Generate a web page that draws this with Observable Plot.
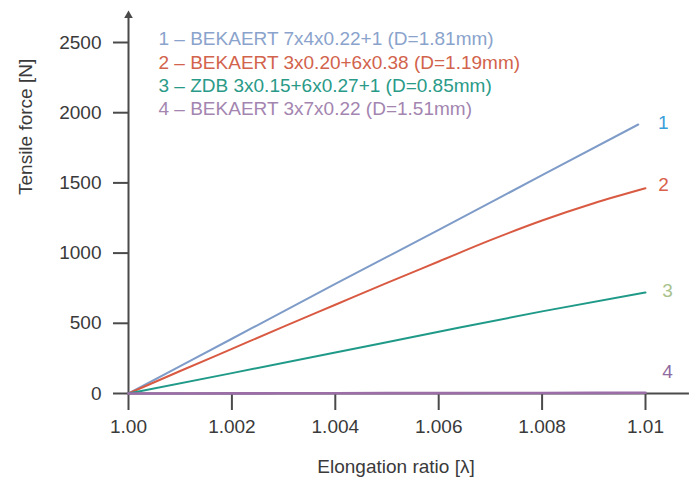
<!DOCTYPE html>
<html>
<head>
<meta charset="utf-8">
<script src="https://cdn.jsdelivr.net/npm/d3@7"></script>
<script src="https://cdn.jsdelivr.net/npm/@observablehq/plot@0.6"></script>
<style>
  html, body { margin: 0; padding: 0; background: #fff; }
  #chart { width: 689px; height: 478px; }
</style>
</head>
<body>
<div id="chart"></div>
<script>
// ---- Data ----
const seriesIds = ["1", "2", "3", "4"];
const seriesNames = [
  "1 – BEKAERT 7x4x0.22+1 (D=1.81mm)",
  "2 – BEKAERT 3x0.20+6x0.38 (D=1.19mm)",
  "3 – ZDB 3x0.15+6x0.27+1 (D=0.85mm)",
  "4 – BEKAERT 3x7x0.22 (D=1.51mm)"
];
const lambda1 = [1.000, 1.002, 1.004, 1.006, 1.008, 1.00986];
const force1  = [0, 390, 780, 1165, 1555, 1916];
const lambda2 = [1.000, 1.001, 1.002, 1.003, 1.004, 1.005, 1.006, 1.007, 1.008, 1.009, 1.010];
const force2  = [0, 160, 318, 476, 632, 788, 940, 1092, 1232, 1355, 1462];
const lambda3 = [1.000, 1.002, 1.004, 1.006, 1.008, 1.010];
const force3  = [0, 145, 292, 440, 585, 719];
const lambda4 = [1.000, 1.002, 1.004, 1.006, 1.008, 1.010];
const force4  = [0, 1, 2, 3, 4, 5];
const xTicks = [1.000, 1.002, 1.004, 1.006, 1.008, 1.010];
const xTickLabels = ["1.00", "1.002", "1.004", "1.006", "1.008", "1.01"];
const yTicks = [0, 500, 1000, 1500, 2000, 2500];
const yTickLabels = ["0", "500", "1000", "1500", "2000", "2500"];
const xTitle = "Elongation ratio [λ]";
const yTitle = "Tensile force [N]";

// ---- Styles ----
const lineColors   = ["#7f9cc9", "#d95a42", "#1f9a88", "#9b6ea8"];
const legendColors = ["#8aa3cc", "#d2634c", "#2a9a88", "#a385b0"];
const endColors    = ["#3a9ed9", "#d9604a", "#a9c28c", "#8f6ba1"];
const endOffsets   = [[25, -2], [18, -3], [22, -2], [22, -21]];
const legendDy     = [-4, 20, 43, 66];
const axisColor = "#4a4a4a";
const textColor = "#3a3a3a";

const lambdas = [lambda1, lambda2, lambda3, lambda4];
const forces = [force1, force2, force3, force4];
const rows = [];
lambdas.forEach((xs, s) => xs.forEach((x, i) => rows.push({s, x, y: forces[s][i]})));

const marks = [];
// axis lines
marks.push(Plot.ruleY([0], {x1: xTicks[0], x2: 1.01085, stroke: axisColor, strokeWidth: 2}));
marks.push(Plot.ruleX([xTicks[0]], {y1: 0, y2: 2690, stroke: axisColor, strokeWidth: 2}));
marks.push(Plot.dot([xTicks[0]], {x: d => d, y: [2692], symbol: "triangle", r: 3.2, fill: axisColor, stroke: "none"}));
marks.push(Plot.axisY({ticks: yTicks, tickFormat: (d, i) => yTickLabels[i], tickSize: 15, tickPadding: 12,
  stroke: axisColor, strokeWidth: 2, fill: textColor, label: null}));
marks.push(Plot.axisX({ticks: xTicks, tickFormat: (d, i) => xTickLabels[i], tickSize: 17, tickPadding: 9,
  stroke: axisColor, strokeWidth: 2, fill: textColor, label: null}));
// series lines
seriesIds.forEach((id, s) => {
  const data = rows.filter(r => r.s === s);
  marks.push(Plot.line(data, {x: "x", y: "y", stroke: lineColors[s], strokeWidth: s === 3 ? 2.6 : 2, curve: "monotone-x"}));
  marks.push(Plot.text(data, Plot.selectLast({x: "x", y: "y", text: () => id, fill: endColors[s],
    dx: endOffsets[s][0], dy: endOffsets[s][1], textAnchor: "middle"})));
  marks.push(Plot.text([seriesNames[s]], {text: d => d, frameAnchor: "top-left", textAnchor: "start",
    lineAnchor: "middle", dx: 30, dy: legendDy[s], fill: legendColors[s]}));
});
// axis titles
marks.push(Plot.text([xTitle], {text: d => d, frameAnchor: "bottom", lineAnchor: "middle", dx: 9, dy: 73, fill: textColor}));
marks.push(Plot.text([yTitle], {text: d => d, frameAnchor: "left", rotate: -90, lineAnchor: "middle", dx: -103, dy: -23, fill: textColor}));

const plot = Plot.plot({
  width: 689,
  height: 478,
  marginLeft: 128,
  marginRight: 44,
  marginTop: 42,
  marginBottom: 85,
  style: {fontFamily: "'Liberation Sans', Arial, sans-serif", fontSize: "19px", background: "#fff", color: textColor, overflow: "visible"},
  x: {domain: [1.0, 1.01], axis: null},
  y: {domain: [0, 2500], axis: null},
  marks
});
document.getElementById("chart").appendChild(plot);
</script>
</body>
</html>
